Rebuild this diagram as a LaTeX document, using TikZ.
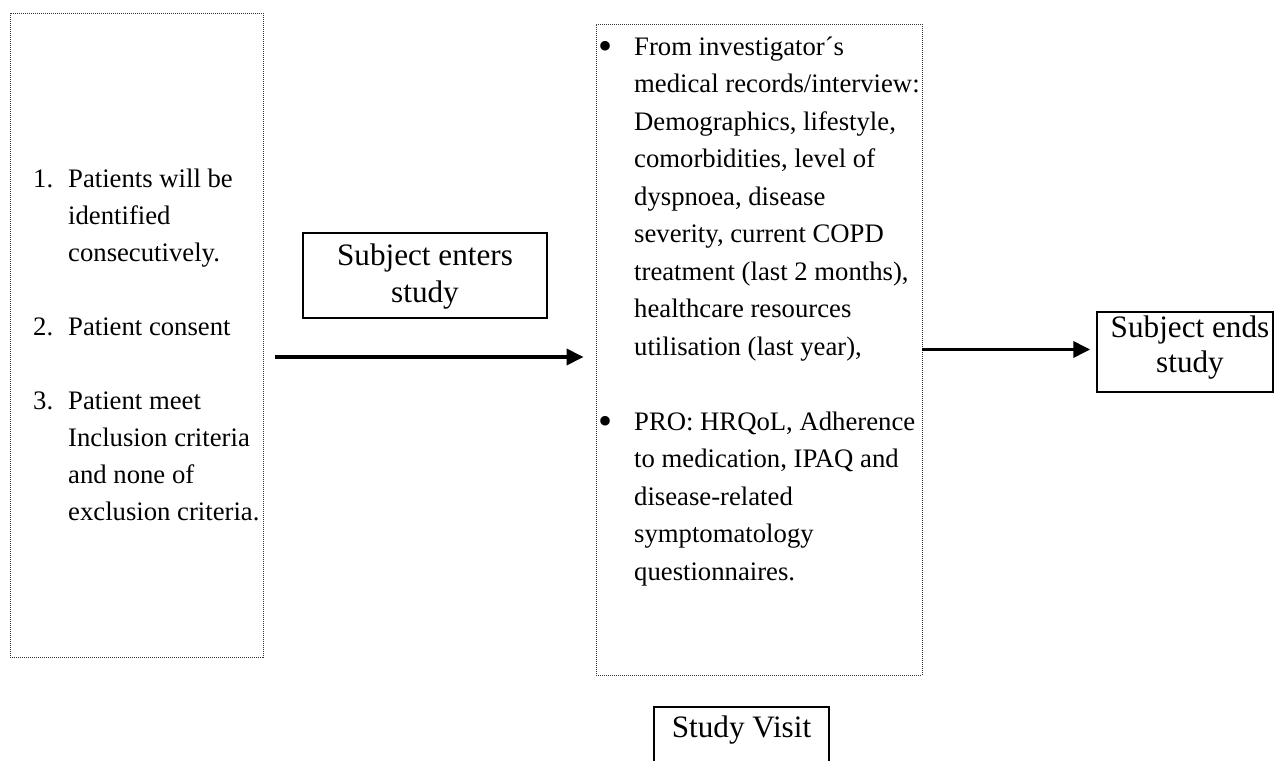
\documentclass[tikz,border=0pt]{standalone}
\usepackage{fontspec}
\setmainfont{Liberation Serif}
\usetikzlibrary{arrows.meta}
\newcommand{\bigbul}{\raisebox{-4.5pt}{\scalebox{1.5}{\textbullet}}}
\tikzset{
  dotbox/.style={draw=black!80, line width=0.9pt, dash pattern=on 1pt off 1pt, inner sep=0pt},
  solidbox/.style={draw=black, line width=1.5pt, inner sep=0pt},
  txt/.style={inner sep=0pt, font=\fontsize{26.7pt}{37pt}\selectfont},
  midtxt/.style={inner sep=0pt, font=\fontsize{26.7pt}{37.5pt}\selectfont},
  lbl/.style={inner sep=0pt, font=\fontsize{31.2pt}{37pt}\selectfont},
  flow/.style={line width=3.7pt, -{Triangle[length=17pt,width=16pt]}}
}
\begin{document}
\begin{tikzpicture}[x=1pt,y=-1pt]
\path[use as bounding box, clip] (0,0) rectangle (1276,760);
% boxes
\node[dotbox, minimum width=253pt, minimum height=644pt] (left) at (136.5,335) {};
\node[dotbox, minimum width=326pt, minimum height=651pt] (mid) at (759,349.5) {};
\node[solidbox, minimum width=244pt, minimum height=85pt] (enters) at (425,275.5) {};
\node[solidbox, minimum width=176pt, minimum height=80pt] (ends) at (1185,352) {};
\node[solidbox, minimum width=175pt, minimum height=84pt, anchor=north] (visit) at (741.5,706) {};
% texts (anchor = baseline of the last line)
\node[txt, anchor=base west, align=left] (lefttext) at (33,520)
  {\makebox[35pt][l]{1.}Patients will be\\
   \hspace*{35pt}identified\\
   \hspace*{35pt}consecutively.\\[37pt]
   \makebox[35pt][l]{2.}Patient consent\\[37pt]
   \makebox[35pt][l]{3.}Patient meet\\
   \hspace*{35pt}Inclusion criteria\\
   \hspace*{35pt}and none of\\
   \hspace*{35pt}exclusion criteria.};
\node[midtxt, anchor=base west, align=left] (midtext) at (598,580)
  {\makebox[36pt][l]{\bigbul}From investigator´s\\
   \hspace*{36pt}medical records/interview:\\
   \hspace*{36pt}Demographics, lifestyle,\\
   \hspace*{36pt}comorbidities, level of\\
   \hspace*{36pt}dyspnoea, disease\\
   \hspace*{36pt}severity, current COPD\\
   \hspace*{36pt}treatment (last 2 months),\\
   \hspace*{36pt}healthcare resources\\
   \hspace*{36pt}utilisation (last year),\\[37.5pt]
   \makebox[36pt][l]{\bigbul}PRO: HRQoL, Adherence\\
   \hspace*{36pt}to medication, IPAQ and\\
   \hspace*{36pt}disease-related\\
   \hspace*{36pt}symptomatology\\
   \hspace*{36pt}questionnaires.};
\node[lbl, anchor=base, align=center] (enterstext) at (425,302) {Subject enters\\study};
\node[lbl, anchor=base, align=center, font=\fontsize{31.2pt}{35pt}\selectfont] (endstext) at (1190,372) {Subject ends\\study};
\node[lbl, anchor=base] (visittext) at (741.5,737) {Study Visit};
% connectors
\coordinate (a1) at ([yshift=-22pt]left.east);
\draw[flow, shorten <=12pt, shorten >=12pt] (a1) -- (a1 -| mid.west);
\draw[flow, shorten >=6pt] (mid.east) -- (mid.east -| ends.west);
\end{tikzpicture}
\end{document}
